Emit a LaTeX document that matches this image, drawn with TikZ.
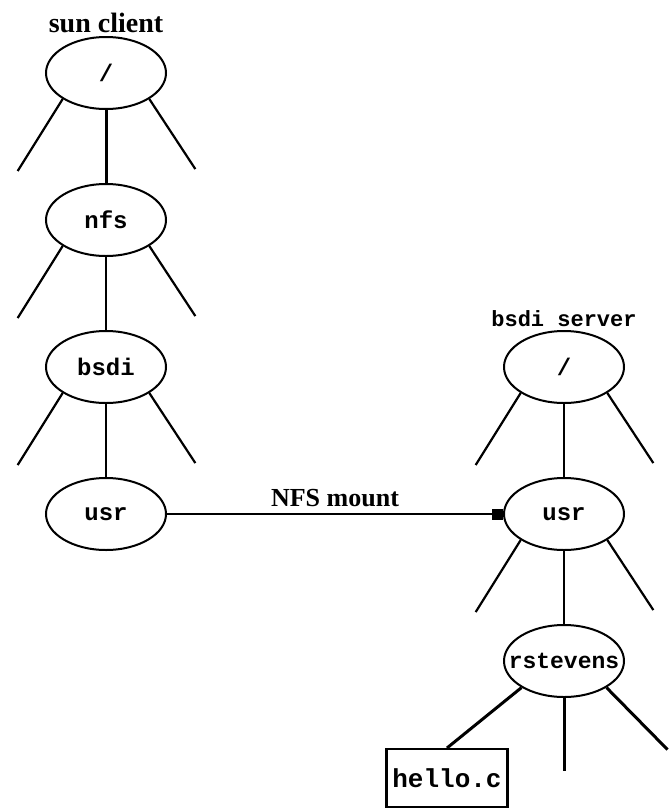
\documentclass[tikz,border=0pt]{standalone}
\usepackage{fontspec}
\setmainfont{Liberation Serif}
\setmonofont{Liberation Mono}
\usetikzlibrary{shapes.geometric,arrows.meta,positioning}

\begin{document}
\begin{tikzpicture}[
  x=1pt, y=1pt,
  dir/.style={ellipse, draw, line width=2pt, minimum width=120pt,
              minimum height=72pt, inner sep=0pt,
              font=\ttfamily\bfseries\fontsize{24}{24}\selectfont},
  stub/.style={line width=2.2pt},
  link/.style={line width=1.4pt},
  heavy/.style={line width=3pt},
  file/.style={rectangle, draw, line width=2.2pt, minimum width=121pt,
               minimum height=58pt, inner sep=0pt,
               font=\ttfamily\bfseries\fontsize{26}{26}\selectfont},
  title/.style={font=\bfseries\fontsize{28}{28}\selectfont},
  node distance=73pt,
]
  \useasboundingbox (0,0) rectangle (669,-809);

  % Client
  \node[dir] (croot) at (106,-73) {/};
  \node[dir, below=of croot] (cnfs) {nfs};
  \node[dir, below=of cnfs] (cbsdi) {bsdi};
  \node[dir, below=of cbsdi] (cusr) {usr};
  \node[title, above=0pt of croot] {sun client};

  % Server
  \node[dir, right=336pt of cusr] (susr) {usr};
  \node[dir, above=of susr] (sroot) {/};
  \node[dir, below=of susr] (srst) {\makebox[0pt]{\fontsize{23}{23}\selectfont rstevens}};
  \node[file, anchor=north] (hello) at (447,-748) {hello.c};
  \node[above=0pt of sroot, font=\ttfamily\bfseries\fontsize{22}{22}\selectfont] {bsdi server};

  % Tree edges
  \draw[heavy] (croot) -- (cnfs);
  \draw[link] (cnfs) -- (cbsdi);
  \draw[link] (cbsdi) -- (cusr);
  \draw[link] (sroot) -- (susr);
  \draw[link] (susr) -- (srst);
  \foreach \n in {croot,cnfs,cbsdi,sroot,susr} {
    \draw[stub] (\n.211) -- ++(-45,-72);
    \draw[stub] (\n.329) -- ++(46,-70);
  }
  \draw[heavy] (srst.212) -- (hello.north);
  \draw[heavy] (srst.south) -- ++(0,-73);
  \draw[heavy] (srst.328) -- ++(61,-62);

  % Mount
  \draw[link, -{Square[length=11pt,width=11pt]}] (cusr) --
    node[above=3pt, font=\bfseries\fontsize{26}{26}\selectfont] {NFS mount} (susr);
\end{tikzpicture}
\end{document}
